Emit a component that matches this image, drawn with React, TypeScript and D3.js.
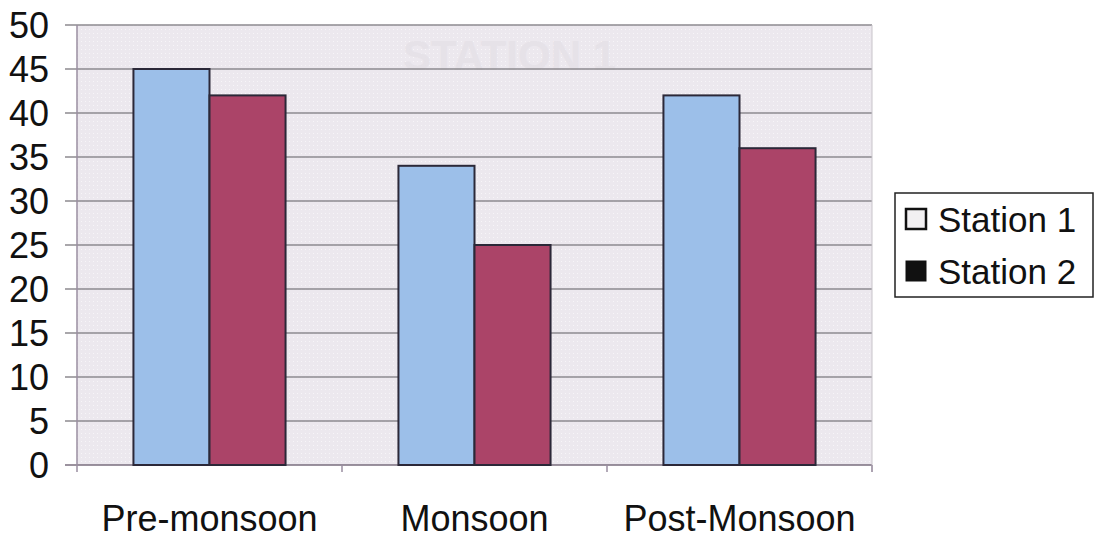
import React from 'react';
import * as d3 from 'd3';

const categories = ['Pre-monsoon', 'Monsoon', 'Post-Monsoon'];
const seriesNames = ['Station 1', 'Station 2'];
const station1 = [45, 34, 42];
const station2 = [42, 25, 36];
const yTicks = [0, 5, 10, 15, 20, 25, 30, 35, 40, 45, 50];

const colors = ['#9cbfe9', '#ab4468'];

export default function App() {
  const width = 1097;
  const height = 540;
  const margin = { top: 25, left: 77, right: 225, bottom: 75 };
  const plotW = width - margin.left - margin.right;
  const plotH = height - margin.top - margin.bottom;

  const x = d3.scaleBand().domain(categories).range([0, plotW]).paddingInner(0.426).paddingOuter(0.213);
  const x1 = d3.scaleBand().domain(seriesNames).range([0, x.bandwidth()]);
  const y = d3.scaleLinear().domain([0, 50]).range([plotH, 0]);
  const values = [station1, station2];
  const font = 'Liberation Sans, Arial, sans-serif';
  const band = plotW / categories.length;

  return (
    <svg width={width} height={height} style={{ position: 'absolute', left: 0, top: 0 }}>
      <defs>
        <pattern id="dots" width="4" height="4" patternUnits="userSpaceOnUse">
          <rect width="4" height="4" fill="#ece8ee" />
          <rect width="1" height="1" fill="#f7f5f8" />
        </pattern>
      </defs>
      <rect width={width} height={height} fill="#ffffff" />
      <g transform={`translate(${margin.left},${margin.top})`}>
        <rect width={plotW} height={plotH} fill="url(#dots)" />
        <text x={plotW / 2 + 35} y={45} textAnchor="middle" fontFamily={font} fontSize={42} fontWeight="bold" fill="#e6e2e8">
          STATION 1
        </text>
        {yTicks.map((t) => (
          <g key={t}>
            <line x1={-12} x2={plotW} y1={y(t)} y2={y(t)} stroke={t === 0 ? '#7a6e7e' : '#8d8a8f'} strokeWidth={1.3} />
            <text x={-28} y={y(t)} dy="0.36em" textAnchor="end" fontFamily={font} fontSize={36} fill="#111">
              {t}
            </text>
          </g>
        ))}
        <line x1={0} x2={0} y1={0} y2={plotH + 7} stroke="#9a8ea0" strokeWidth={1.5} />
        <line x1={plotW} x2={plotW} y1={0} y2={plotH + 7} stroke="#c8c4ca" strokeWidth={1} />
        {categories.map((c, i) => (
          <line key={c} x1={band * (i + 1)} x2={band * (i + 1)} y1={plotH} y2={plotH + 7} stroke="#9a8ea0" strokeWidth={1.5} />
        ))}
        {categories.map((c, i) => (
          <g key={c} transform={`translate(${x(c)},0)`}>
            {seriesNames.map((s, j) => (
              <rect
                key={s}
                x={x1(s)}
                y={y(values[j][i])}
                width={x1.bandwidth()}
                height={plotH - y(values[j][i])}
                fill={colors[j]}
                stroke="#2b2838"
                strokeWidth={2}
              />
            ))}
            <text x={x.bandwidth() / 2} y={plotH + 66} textAnchor="middle" fontFamily={font} fontSize={36} fill="#111">
              {c}
            </text>
          </g>
        ))}
      </g>
      <g transform="translate(895,193)">
        <rect width={198} height={104} fill="#fff" stroke="#222" strokeWidth={1.5} />
        {seriesNames.map((s, j) => (
          <g key={s} transform={`translate(0,${j * 52})`}>
            <rect x={11} y={16} width={20} height={20} fill={j === 0 ? '#f2f0f2' : '#111'} stroke="#111" strokeWidth={j === 0 ? 2.5 : 1} />
            <text x={43} y={26} dy="0.36em" fontFamily={font} fontSize={35} fill="#111">
              {s}
            </text>
          </g>
        ))}
      </g>
    </svg>
  );
}
